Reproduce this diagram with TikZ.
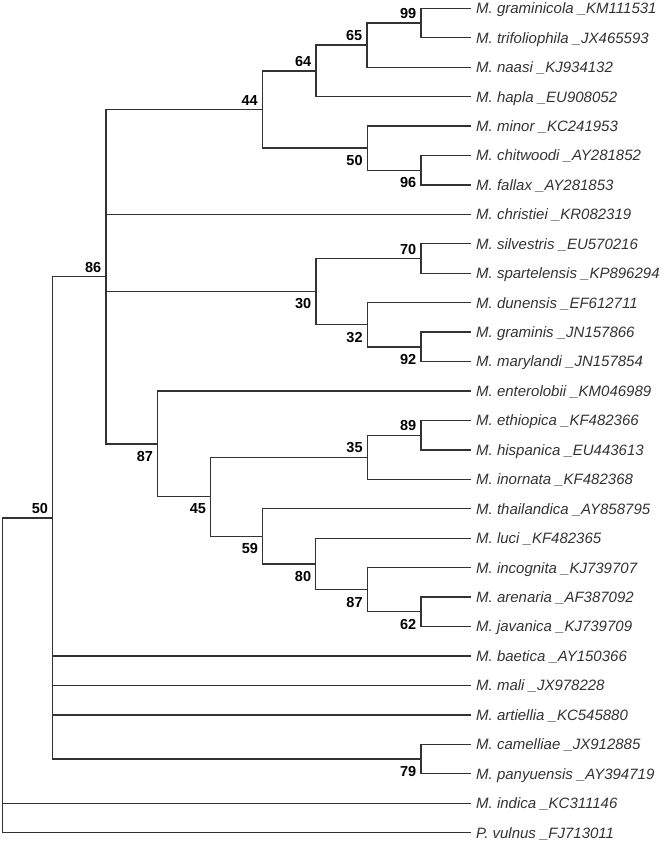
\documentclass[tikz,border=0pt]{standalone}
\usepackage{fontspec}
\setmainfont{Liberation Sans}
\tikzset{
  taxon/.style={anchor=west, inner xsep=5pt, inner ysep=0pt, text height=13.4pt, text depth=2.6pt,
    text=black!80, font=\fontsize{15}{17}\selectfont\itshape},
  boot/.style={inner sep=0pt, font=\fontsize{14.5}{16}\selectfont\bfseries},
  bsabove/.style={boot, anchor=south east, xshift=-4.5pt, yshift=4pt},
  bsbelow/.style={boot, anchor=north east, xshift=-4.5pt, yshift=-7pt},
  branch/.style={line width=1.3pt, black!80}
}
\begin{document}
\begin{tikzpicture}[x=1pt, y=-29.44pt]
    \useasboundingbox (0,-0.282) rectangle (667,28.353);

    % Taxa
    \foreach \lab [count=\i from 0] in {
        M. graminicola \_KM111531, M. trifoliophila \_JX465593, M. naasi \_KJ934132,
        M. hapla \_EU908052, M. minor \_KC241953, M. chitwoodi \_AY281852,
        M. fallax \_AY281853, M. christiei \_KR082319, M. silvestris \_EU570216,
        M. spartelensis \_KP896294, M. dunensis \_EF612711, M. graminis \_JN157866,
        M. marylandi \_JN157854, M. enterolobii \_KM046989, M. ethiopica \_KF482366,
        M. hispanica \_EU443613, M. inornata \_KF482368, M. thailandica \_AY858795,
        M. luci \_KF482365, M. incognita \_KJ739707, M. arenaria \_AF387092,
        M. javanica \_KJ739709, M. baetica \_AY150366, M. mali \_JX978228,
        M. artiellia \_KC545880, M. camelliae \_JX912885, M. panyuensis \_AY394719,
        M. indica \_KC311146, P. vulnus \_FJ713011}
        \node (t\i) [taxon] at (471,\i) {\lab};

    % Internal nodes
    \coordinate (n99) at (421,0.5);
    \coordinate (n65) at (367,1.25);
    \coordinate (n64) at (316,2.125);
    \coordinate (n96) at (421,5.5);
    \coordinate (n50a) at (367.3,4.75);
    \coordinate (n44) at (262.5,3.4375);
    \coordinate (n70) at (421,8.5);
    \coordinate (n92) at (421,11.5);
    \coordinate (n32) at (367.3,10.75);
    \coordinate (n30) at (316,9.625);
    \coordinate (n89) at (421,14.5);
    \coordinate (n35) at (367.3,15.25);
    \coordinate (n62) at (421,20.5);
    \coordinate (n87b) at (367.3,19.75);
    \coordinate (n80) at (315.8,18.875);
    \coordinate (n59) at (262.7,17.9375);
    \coordinate (n45) at (210.7,16.59375);
    \coordinate (n87a) at (157.7,14.796875);
    \coordinate (n86) at (106,9.1171875);
    \coordinate (n79) at (421,25.5);
    \coordinate (n50b) at (52.7,17.30859);
    \coordinate (root) at (2.5,22.654);

    % Edges
    \begin{scope}[branch]
        \draw (t0) -| (n99) |- (t1);
        \draw (n99) -| (n65) |- (t2);
        \draw (n65) -| (n64) |- (t3);
        \draw (t5) -| (n96) |- (t6);
        \draw (t4) -| (n50a) |- (n96);
        \draw (n64) -| (n44) |- (n50a);
        \draw (t8) -| (n70) |- (t9);
        \draw (t11) -| (n92) |- (t12);
        \draw (t10) -| (n32) |- (n92);
        \draw (n70) -| (n30) |- (n32);
        \draw (t14) -| (n89) |- (t15);
        \draw (n89) -| (n35) |- (t16);
        \draw (t20) -| (n62) |- (t21);
        \draw (t19) -| (n87b) |- (n62);
        \draw (t18) -| (n80) |- (n87b);
        \draw (t17) -| (n59) |- (n80);
        \draw (n35) -| (n45) |- (n59);
        \draw (t13) -| (n87a) |- (n45);
        \draw (n44) -| (n86) |- (n87a);
        \draw (n86 |- t7) -- (t7);
        \draw (n86 |- n30) -- (n30);
        \draw (t25) -| (n79) |- (t26);
        \draw (n86) -| (n50b) |- (n79);
        \draw (n50b |- t22) -- (t22);
        \draw (n50b |- t23) -- (t23);
        \draw (n50b |- t24) -- (t24);
        \draw (n50b) -| (root) |- (t28);
        \draw (root |- t27) -- (t27);
    \end{scope}

    % Bootstrap values
    \node (b99) [bsabove] at (n99) {99};
    \node (b65) [bsabove] at (n65) {65};
    \node (b64) [bsabove] at (n64) {64};
    \node (b44) [bsabove] at (n44) {44};
    \node (b96) [bsbelow] at (n96) {96};
    \node (b50a) [bsbelow] at (n50a) {50};
    \node (b86) [bsabove] at (n86) {86};
    \node (b70) [bsabove] at (n70) {70};
    \node (b30) [bsbelow] at (n30) {30};
    \node (b32) [bsbelow] at (n32) {32};
    \node (b92) [bsbelow] at (n92) {92};
    \node (b87a) [bsbelow] at (n87a) {87};
    \node (b89) [bsabove] at (n89) {89};
    \node (b35) [bsabove] at (n35) {35};
    \node (b45) [bsbelow] at (n45) {45};
    \node (b59) [bsbelow] at (n59) {59};
    \node (b80) [bsbelow] at (n80) {80};
    \node (b87b) [bsbelow] at (n87b) {87};
    \node (b62) [bsbelow] at (n62) {62};
    \node (b50b) [bsabove] at (n50b) {50};
    \node (b79) [bsbelow] at (n79) {79};
\end{tikzpicture}
\end{document}
